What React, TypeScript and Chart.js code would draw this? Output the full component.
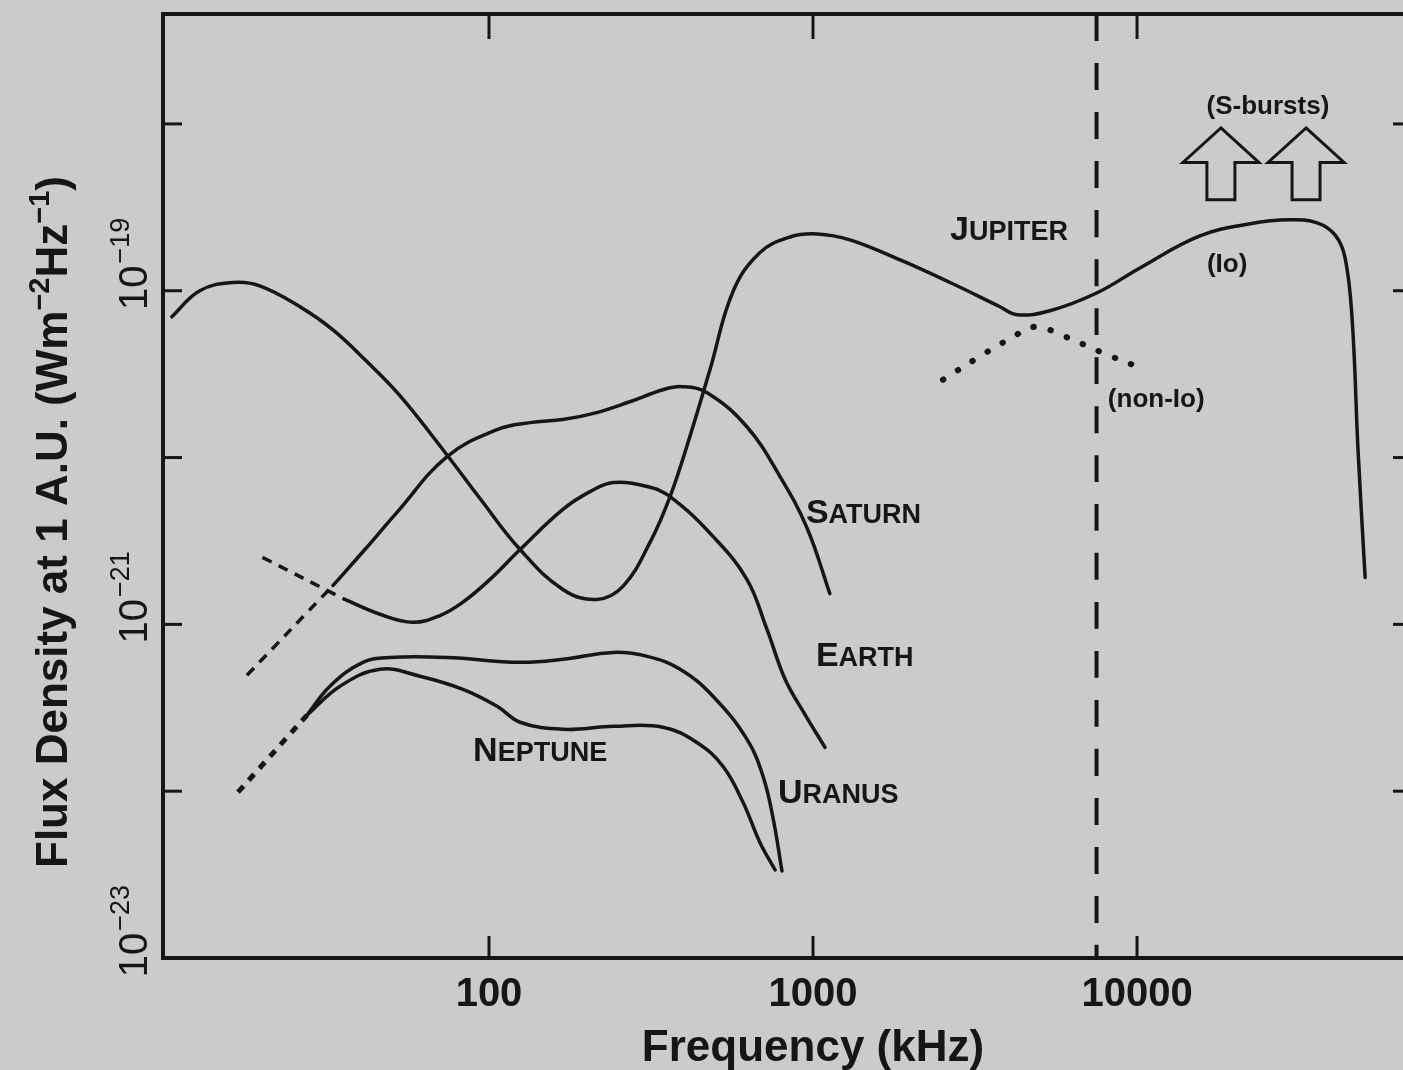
import React, { useEffect, useRef } from "react";
import { Chart, registerables } from "chart.js";

Chart.register(...registerables);

// ---------- data (frequency in kHz, flux density in W m^-2 Hz^-1) ----------
const jupiterFreq = [10.5, 12.8, 16.2, 19.6, 26.1, 33.0, 42.0, 53.1, 74.1, 93.8, 124.7, 169, 215, 259, 314, 362, 417, 481, 566, 685, 849, 1028, 1300, 1858, 2649, 3776, 4266, 5383, 7534, 10210, 15630, 22340, 29650, 35970, 40830, 43850, 46130, 48080, 50580];
const jupiterFlux = [6.98e-20, 1.0e-19, 1.12e-19, 1.07e-19, 8.02e-20, 5.83e-20, 3.76e-20, 2.35e-20, 1.04e-20, 5.68e-21, 2.81e-21, 1.62e-21, 1.41e-21, 1.69e-21, 3.10e-21, 5.83e-21, 1.34e-20, 3.37e-20, 9.86e-20, 1.69e-19, 2.10e-19, 2.19e-19, 2.02e-19, 1.53e-19, 1.12e-19, 8.02e-20, 7.18e-20, 7.59e-20, 9.73e-20, 1.37e-19, 2.13e-19, 2.52e-19, 2.66e-19, 2.55e-19, 2.16e-19, 1.58e-19, 6.70e-20, 1.12e-20, 1.91e-21];

const jupiterNonIoFreq = [2518, 3228, 4111, 4842, 5995, 7691, 10000];
const jupiterNonIoFlux = [2.93e-20, 3.97e-20, 5.24e-20, 6.08e-20, 5.31e-20, 4.31e-20, 3.51e-20];

const saturnDashFreq = [17.9, 33.0];
const saturnDashFlux = [4.95e-22, 1.71e-21];
const saturnFreq = [33.0, 41.4, 52.0, 74.1, 105.9, 134, 169, 215, 272, 344, 394, 471, 625, 791, 957, 1127];
const saturnFlux = [1.71e-21, 2.81e-21, 4.69e-21, 1.01e-20, 1.47e-20, 1.62e-20, 1.69e-20, 1.86e-20, 2.16e-20, 2.55e-20, 2.66e-20, 2.45e-20, 1.53e-20, 7.69e-21, 3.81e-21, 1.53e-21];

const earthDashFreq = [20.0, 35.9];
const earthDashFlux = [2.52e-21, 1.41e-21];
const earthFreq = [35.9, 46.1, 58.2, 70.6, 83.1, 100.7, 124.7, 169, 205, 242, 308, 362, 491, 625, 721, 820, 944, 1089];
const earthFlux = [1.41e-21, 1.15e-21, 1.03e-21, 1.13e-21, 1.36e-21, 1.86e-21, 2.81e-21, 4.89e-21, 6.25e-21, 7.08e-21, 6.70e-21, 5.83e-21, 3.37e-21, 1.86e-21, 9.33e-22, 4.69e-22, 2.89e-22, 1.83e-22];

const iceGiantDashFreq = [16.8, 27.4];
const iceGiantDashFlux = [9.86e-23, 2.85e-22];
const uranusFreq = [27.4, 32.3, 40.8, 49.4, 74.1, 124.7, 169, 242, 308, 389, 491, 625, 701, 754, 802];
const uranusFlux = [2.85e-22, 4.26e-22, 5.92e-22, 6.33e-22, 6.33e-22, 5.92e-22, 6.17e-22, 6.79e-22, 6.43e-22, 5.38e-22, 3.71e-22, 2.05e-22, 1.23e-22, 6.79e-23, 3.32e-23];
const neptuneFreq = [27.4, 34.7, 46.1, 61.2, 83.1, 105.9, 124.7, 169, 242, 344, 438, 527, 608, 685, 764];
const neptuneFlux = [2.85e-22, 4.26e-22, 5.38e-22, 4.89e-22, 4.08e-22, 3.23e-22, 2.59e-22, 2.35e-22, 2.45e-22, 2.42e-22, 1.96e-22, 1.41e-22, 8.59e-23, 4.95e-23, 3.37e-23];

const cutoffFreq = [7500];
const sBurstArrowFreq = [18150, 33240];
const sBurstArrowTipFlux = [9.46e-19, 9.46e-19];
const sBurstArrowBaseFlux = [3.51e-19, 3.51e-19];

const xTickValues = [100, 1000, 10000];
const xTickLabels = ["100", "1000", "10000"];
const yTickValues = [1e-18, 1e-19, 1e-20, 1e-21, 1e-22];
const yLabelValues = [1e-19, 1e-21, 1e-23];
const yLabelExponents = ["\u221219", "\u221221", "\u221223"];

const planetNames = ["Jupiter", "Saturn", "Earth", "Uranus", "Neptune"];
const noteTexts = ["(S-bursts)", "(Io)", "(non-Io)"];

// ---------- layout / style ----------
const X_MIN = 9.86;
const X_MAX = 66200;
const Y_MIN = 1e-23;
const Y_MAX = 4.56e-18;

// annotation anchors in data space [freq, flux]
const planetAnchors: [number, number][] = [
  [2649, 2.02e-19],
  [951, 4.08e-21],
  [1021, 5.61e-22],
  [780, 8.47e-23],
  [89.3, 1.51e-22],
];
const noteAnchors: [number, number, CanvasTextAlign][] = [
  [25350, 1.15e-18, "center"],
  [18970, 1.3e-19, "center"],
  [8128, 2.02e-20, "left"],
];

const BG = "#cbcbcb";
const INK = "#161616";
const FONT = '"Liberation Sans", Arial, Helvetica, sans-serif';

const pts = (xs: number[], ys: number[]) => xs.map((x, i) => ({ x, y: ys[i] }));

const solid = (data: any) => ({
  data,
  borderColor: INK,
  borderWidth: 3.5,
  pointRadius: 0,
  fill: false,
  tension: 0.4,
  borderCapStyle: "round" as const,
  borderJoinStyle: "round" as const,
});

function drawSmallCaps(ctx: CanvasRenderingContext2D, text: string, x: number, y: number, big: number, small: number) {
  ctx.textAlign = "left";
  ctx.textBaseline = "alphabetic";
  ctx.font = `bold ${big}px ${FONT}`;
  const first = text[0].toUpperCase();
  ctx.fillText(first, x, y);
  const w = ctx.measureText(first).width;
  ctx.font = `bold ${small}px ${FONT}`;
  ctx.fillText(text.slice(1).toUpperCase(), x + w, y);
}

const paperPlugin = {
  id: "paper",
  beforeDraw(chart: any) {
    const { ctx, width, height } = chart;
    ctx.save();
    ctx.fillStyle = BG;
    ctx.fillRect(0, 0, width, height);
    ctx.restore();
  },
  afterDraw(chart: any) {
    const { ctx, chartArea: a } = chart;
    const xs = chart.scales.x;
    const ys = chart.scales.y;
    ctx.save();
    ctx.strokeStyle = INK;
    ctx.fillStyle = INK;

    const seg = (x1: number, y1: number, x2: number, y2: number) => {
      ctx.beginPath();
      ctx.moveTo(x1, y1);
      ctx.lineTo(x2, y2);
      ctx.stroke();
    };

    // frame (right side lies just beyond the page)
    ctx.lineWidth = 4;
    ctx.lineCap = "square";
    ctx.beginPath();
    ctx.moveTo(a.right + 10, a.top);
    ctx.lineTo(a.left, a.top);
    ctx.lineTo(a.left, a.bottom);
    ctx.lineTo(a.right + 10, a.bottom);
    ctx.stroke();

    // inward ticks
    ctx.lineWidth = 3;
    ctx.lineCap = "butt";
    for (const v of yTickValues) {
      const y = ys.getPixelForValue(v);
      seg(a.left, y, a.left + 19, y);
      seg(a.right - 10, y, a.right, y);
    }
    for (const v of xTickValues) {
      const x = xs.getPixelForValue(v);
      seg(x, a.top, x, a.top + 25);
      seg(x, a.bottom, x, a.bottom - 22);
    }

    // x tick labels
    ctx.font = `bold 40px ${FONT}`;
    ctx.textAlign = "center";
    ctx.textBaseline = "alphabetic";
    xTickValues.forEach((v, i) => {
      ctx.fillText(xTickLabels[i], xs.getPixelForValue(v), a.bottom + 48);
    });

    // x title
    ctx.font = `bold 44px ${FONT}`;
    ctx.fillText("Frequency (kHz)", xs.getPixelForValue(1000), a.bottom + 103);

    // y tick labels (rotated, with superscript exponent)
    yLabelValues.forEach((v, i) => {
      const y = ys.getPixelForValue(v) - 3;
      ctx.save();
      ctx.translate(a.left - 16, y);
      ctx.rotate(-Math.PI / 2);
      ctx.textAlign = "left";
      ctx.font = `40px ${FONT}`;
      const w = ctx.measureText("10").width;
      ctx.fillText("10", -w / 2, 0);
      ctx.font = `27px ${FONT}`;
      ctx.fillText(yLabelExponents[i], w / 2 + 2, -18);
      ctx.restore();
    });

    // y title
    ctx.save();
    ctx.translate(67, a.bottom - 90);
    ctx.rotate(-Math.PI / 2);
    ctx.textAlign = "left";
    const parts: [string, boolean][] = [
      ["Flux Density at 1 A.U. (Wm", false],
      ["\u22122", true],
      ["Hz", false],
      ["\u22121", true],
      [")", false],
    ];
    let cx = 0;
    for (const [t, sup] of parts) {
      ctx.font = sup ? `bold 29px ${FONT}` : `bold 44px ${FONT}`;
      ctx.fillText(t, cx, sup ? -18 : 0);
      cx += ctx.measureText(t).width;
    }
    ctx.restore();

    // planet labels
    planetNames.forEach((name, i) => {
      const [f, s] = planetAnchors[i];
      drawSmallCaps(ctx, name, xs.getPixelForValue(f), ys.getPixelForValue(s), 34, 27);
    });

    // notes
    ctx.font = `bold 26px ${FONT}`;
    ctx.textBaseline = "alphabetic";
    noteTexts.forEach((t, i) => {
      const [f, s, align] = noteAnchors[i];
      ctx.textAlign = align;
      ctx.fillText(t, xs.getPixelForValue(f), ys.getPixelForValue(s));
    });

    // S-burst arrows (outlined)
    ctx.lineWidth = 3;
    ctx.lineJoin = "miter";
    sBurstArrowFreq.forEach((f, i) => {
      const x = xs.getPixelForValue(f);
      const yt = ys.getPixelForValue(sBurstArrowTipFlux[i]);
      const yb = ys.getPixelForValue(sBurstArrowBaseFlux[i]);
      const hh = (yb - yt) * 0.48;
      const hw = 38;
      const sw = 14;
      ctx.beginPath();
      ctx.moveTo(x, yt);
      ctx.lineTo(x + hw, yt + hh);
      ctx.lineTo(x + sw, yt + hh);
      ctx.lineTo(x + sw, yb);
      ctx.lineTo(x - sw, yb);
      ctx.lineTo(x - sw, yt + hh);
      ctx.lineTo(x - hw, yt + hh);
      ctx.closePath();
      ctx.stroke();
    });

    ctx.restore();
  },
};

export default function App() {
  const ref = useRef<HTMLCanvasElement>(null);

  useEffect(() => {
    const canvas = ref.current;
    if (!canvas) return;

    const datasets: any[] = [
      solid(pts(jupiterFreq, jupiterFlux)),
      solid(pts(saturnFreq, saturnFlux)),
      solid(pts(earthFreq, earthFlux)),
      solid(pts(uranusFreq, uranusFlux)),
      solid(pts(neptuneFreq, neptuneFlux)),
      { ...solid(pts(saturnDashFreq, saturnDashFlux)), borderDash: [10, 8], borderWidth: 3.5, borderCapStyle: "butt" },
      { ...solid(pts(earthDashFreq, earthDashFlux)), borderDash: [10, 8], borderWidth: 3.5, borderCapStyle: "butt" },
      { ...solid(pts(iceGiantDashFreq, iceGiantDashFlux)), borderDash: [8, 8], borderWidth: 5, borderCapStyle: "butt" },
      { ...solid(pts(jupiterNonIoFreq, jupiterNonIoFlux)), borderDash: [0.5, 17], borderWidth: 6, borderCapStyle: "round" },
      {
        ...solid([
          { x: cutoffFreq[0], y: Y_MAX },
          { x: cutoffFreq[0], y: Y_MIN },
        ]),
        borderDash: [27, 22],
        borderWidth: 4,
        borderCapStyle: "butt",
      },
    ];

    const chart = new Chart(canvas, {
      type: "line",
      data: { datasets },
      options: {
        responsive: false,
        animation: false,
        devicePixelRatio: 1,
        events: [],
        layout: { padding: { left: 163, right: 0, top: 14, bottom: 112 } },
        plugins: { legend: { display: false }, tooltip: { enabled: false } },
        scales: {
          x: { type: "logarithmic", min: X_MIN, max: X_MAX, display: false },
          y: { type: "logarithmic", min: Y_MIN, max: Y_MAX, display: false },
        },
      },
      plugins: [paperPlugin],
    } as any);

    return () => chart.destroy();
  }, []);

  return (
    <div style={{ position: "absolute", left: 0, top: 0, width: 1403, height: 1070, overflow: "hidden" }}>
      <canvas ref={ref} width={1403} height={1070} style={{ display: "block", width: 1403, height: 1070 }} />
    </div>
  );
}
